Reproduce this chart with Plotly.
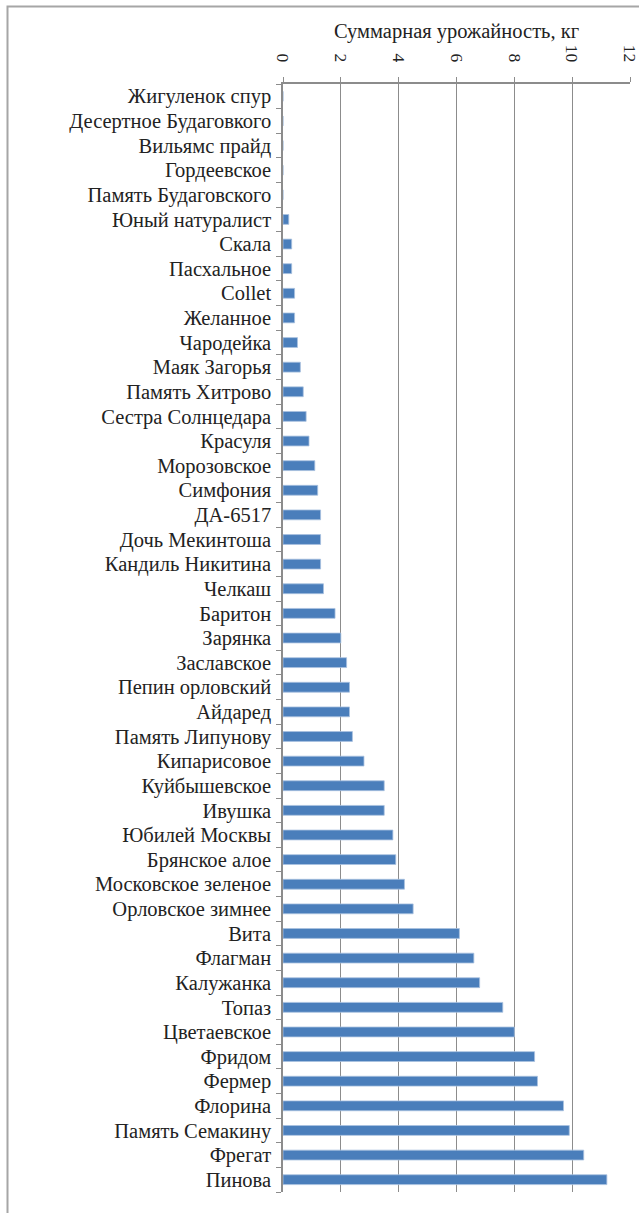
import plotly.graph_objects as go

categories = [
    "Жигуленок спур", "Десертное Будаговкого", "Вильямс прайд", "Гордеевское",
    "Память Будаговского", "Юный натуралист", "Скала", "Пасхальное", "Collet",
    "Желанное", "Чародейка", "Маяк Загорья", "Память Хитрово", "Сестра Солнцедара",
    "Красуля", "Морозовское", "Симфония", "ДА-6517", "Дочь Мекинтоша",
    "Кандиль Никитина", "Челкаш", "Баритон", "Зарянка", "Заславское",
    "Пепин орловский", "Айдаред", "Память Липунову", "Кипарисовое", "Куйбышевское",
    "Ивушка", "Юбилей Москвы", "Брянское алое", "Московское зеленое",
    "Орловское зимнее", "Вита", "Флагман", "Калужанка", "Топаз", "Цветаевское",
    "Фридом", "Фермер", "Флорина", "Память Семакину", "Фрегат", "Пинова",
]
values = [
    0, 0, 0, 0,
    0, 0.2, 0.3, 0.3, 0.4,
    0.4, 0.5, 0.6, 0.7, 0.8,
    0.9, 1.1, 1.2, 1.3, 1.3,
    1.3, 1.4, 1.8, 2.0, 2.2,
    2.3, 2.3, 2.4, 2.8, 3.5,
    3.5, 3.8, 3.9, 4.2,
    4.5, 6.1, 6.6, 6.8, 7.6, 8.0,
    8.7, 8.8, 9.7, 9.9, 10.4, 11.2,
]
x_ticks = [0, 2, 4, 6, 8, 10, 12]
x_title = "Суммарная урожайность, кг"

W, H = 639, 1213
ml, mr, mt, mb = 283, 9, 84, 21
pw, ph = W - ml - mr, H - mt - mb

fig = go.Figure(go.Bar(
    x=values, y=categories, orientation="h",
    marker=dict(color="#4A7EBB", line=dict(color="#A9C1E0", width=0.8)),
))

font = "Liberation Serif"
fig.update_layout(
    width=W, height=H,
    margin=dict(l=ml, r=mr, t=mt, b=mb, pad=0, autoexpand=False),
    paper_bgcolor="white", plot_bgcolor="white",
    bargap=0.6, showlegend=False,
    font=dict(family=font, size=20.5, color="#222"),
    xaxis=dict(
        side="top", range=[0, 12], tickmode="array", tickvals=x_ticks,
        ticktext=[str(t) for t in x_ticks], tickangle=90,
        tickfont=dict(size=17.5),
        showgrid=True, gridcolor="#8C8C8C", gridwidth=1.2,
        showline=True, linecolor="#8C8C8C", linewidth=1.5,
        ticks="outside", ticklen=5, tickcolor="#8C8C8C",
        zeroline=False, automargin=False,
        ticklabeloverflow="allow", ticklabelstandoff=9,
        title=dict(text=x_title, font=dict(size=20.5), standoff=0),
    ),
    yaxis=dict(
        autorange="reversed", categoryorder="array", categoryarray=categories,
        tickmode="array", tickvals=categories, ticktext=categories,
        showline=True, linecolor="#8C8C8C", linewidth=1.5,
        ticks="outside", ticklen=5, tickcolor="#8C8C8C", tickson="boundaries",
        showgrid=False, zeroline=False, automargin=False,
        ticklabelstandoff=6,
    ),
)

def px_x(p):
    return (p - ml) / pw

def px_y(p):
    return (H - mb - p) / ph

fig.add_shape(type="rect", xref="paper", yref="paper",
              x0=px_x(7.5), x1=px_x(W + 10), y0=px_y(H + 10), y1=px_y(6.5),
              line=dict(color="#A6A6A6", width=2), layer="below")

fig.write_html("out.html", config={"displayModeBar": False},
               post_script="document.body.style.margin='0';document.body.style.overflow='hidden';")
